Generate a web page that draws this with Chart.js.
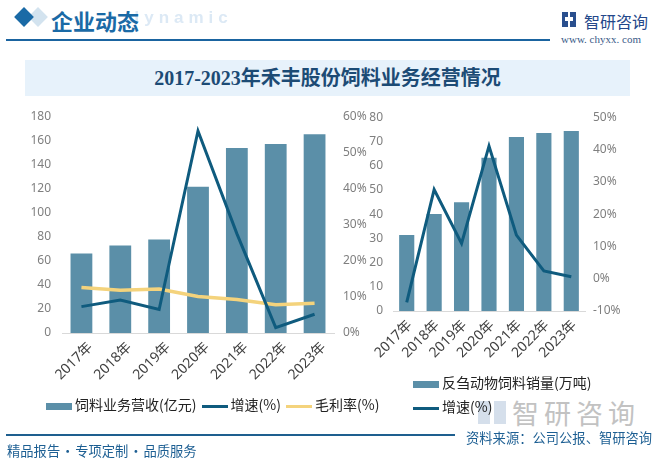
<!DOCTYPE html>
<html>
<head>
<meta charset="utf-8">
<script src="https://cdn.jsdelivr.net/npm/chart.js@4.4.0/dist/chart.umd.min.js"></script>
<style>
  body { margin: 0; background: #fff; font-family: "Noto Sans CJK SC", sans-serif; }
  #page { position: relative; width: 662px; height: 463px; overflow: hidden; background: #fff; }
  .abs { position: absolute; white-space: nowrap; }
  .dia { position: absolute; width: 14px; height: 14px; transform: rotate(45deg); }
  .sw { display: inline-block; vertical-align: middle; margin-right: 3px; }
  .leg { font-size: 14px; color: #222; }
  .dot { display: inline-block; width: 15px; text-align: center; }
</style>
</head>
<body>
<div id="page">
  <!-- header -->
  <div class="abs" style="left:-15px;top:8px;font:bold 17px Arial, sans-serif;letter-spacing:5px;color:#dce9f5;-webkit-mask-image:linear-gradient(to right, transparent 0, transparent 124px, #000 127px);mask-image:linear-gradient(to right, transparent 0, transparent 124px, #000 127px);">Enterprise dynamic</div>
  <div class="dia" style="left:31px;top:10px;background:#d3e3ef;"></div>
  <div class="dia" style="left:17px;top:10px;background:#1a6aa6;"></div>
  <div class="abs" style="left:51px;top:4px;font:bold 22px 'Noto Sans CJK SC';color:#1a6aa6;">企业动态</div>
  <div class="abs" style="left:6px;top:39px;width:544px;height:2px;background:#1a64a0;"></div>
  <div class="abs" style="left:562px;top:12px;width:14px;height:15px;">
    <div class="abs" style="left:0;top:0;width:6px;height:15px;background:#2a4f8e;"></div>
    <div class="abs" style="left:8px;top:0;width:6px;height:15px;background:#2a4f8e;"></div>
    <div class="abs" style="left:3px;top:5px;width:8px;height:4px;background:#fff;"></div>
  </div>
  <div class="abs" style="left:584px;top:9px;font:16px 'Noto Sans CJK SC';color:#24488a;">智研咨询</div>
  <div class="abs" style="left:561px;top:33px;font:11px 'Liberation Serif', serif;color:#3a5a88;">www. chyxx. com</div>

  <!-- title -->
  <div class="abs" style="left:25px;top:60px;width:605px;height:36px;background:#e7f2fb;"></div>
  <div class="abs" style="left:25px;top:62px;width:605px;text-align:center;font:bold 20px 'Liberation Serif','Noto Sans CJK SC',serif;color:#1c4b75;">2017-2023年禾丰股份饲料业务经营情况</div>

  <!-- faint logo watermark -->
  <div class="abs" style="left:478px;top:401px;width:28px;height:23px;opacity:0.35;">
    <div class="abs" style="left:0;top:0;width:12px;height:23px;background:#8aa6c8;"></div>
    <div class="abs" style="left:16px;top:0;width:12px;height:23px;background:#8aa6c8;"></div>
  </div>
  <div class="abs" style="left:512px;top:393px;font:27px 'Noto Sans CJK SC';color:#c2c2c2;letter-spacing:5px;">智研咨询</div>

  <div class="abs" style="left:20px;top:98px;width:350px;height:307px;"><canvas id="c1" width="350" height="307"></canvas></div>
  <div class="abs" style="left:365px;top:100px;width:265px;height:266px;"><canvas id="c2" width="265" height="266"></canvas></div>

  <!-- legends -->
  <div class="abs leg" style="left:46px;top:394px;">
    <span class="sw" style="width:26px;height:7px;background:#5b8fa8;"></span>饲料业务营收(亿元)
    <span class="sw" style="width:26px;height:3px;background:#0f5b7e;margin-left:2px;"></span>增速(%)
    <span class="sw" style="width:26px;height:3px;background:#f4d37c;margin-left:2px;"></span>毛利率(%)
  </div>
  <div class="abs leg" style="left:413px;top:372px;">
    <span class="sw" style="width:26px;height:7px;background:#5b8fa8;"></span>反刍动物饲料销量(万吨)
  </div>
  <div class="abs leg" style="left:413px;top:396px;">
    <span class="sw" style="width:26px;height:3px;background:#0f5b7e;"></span>增速(%)
  </div>

  <!-- footer -->
  <div class="abs" style="left:6px;top:434px;width:449px;height:2px;background:#1e5f8f;"></div>
  <div class="abs" style="left:466px;top:428px;font:13.3px 'Noto Sans CJK SC';color:#1d5f93;">资料来源：公司公报、智研咨询</div>
  <div class="abs" style="left:7px;top:441px;font:13.3px 'Noto Sans CJK SC';color:#1d5f93;">精品报告<span class="dot">·</span>专项定制<span class="dot">·</span>品质服务</div>
</div>

<script>
const years = ['2017年', '2018年', '2019年', '2020年', '2021年', '2022年', '2023年'];
// left chart
const feedRevenue = [66, 72.7, 77.6, 121.4, 153.6, 156.9, 165];
const revenueGrowth = [7.3, 9.1, 6.5, 55.9, 27.5, 1.5, 5.2];
const grossMargin = [12.6, 11.8, 12.2, 10.1, 9.3, 7.8, 8.2];
// right chart
const ruminantSales = [31.4, 40, 44.9, 63.3, 71.8, 73.5, 74.3];
const salesGrowth = [-7.3, 27.6, 10.9, 41.1, 13.5, 2.4, 0.6];

const barColor = '#5b8fa8';
const lineColor = '#0f5b7e';
const yellow = '#f4d37c';
const tickFont = { family: "'Noto Sans', 'Noto Sans CJK SC'", size: 12 };
const tickColor = '#7f7f7f';

function fixWidth(w) { return function (scale) { scale.width = w; }; }
function fixHeight(h) { return function (scale) { scale.height = h; }; }

function makeChart(id, cfg) {
    const ctx = document.getElementById(id).getContext('2d');
    return new Chart(ctx, {
        type: 'bar',
        data: {
            labels: years,
            datasets: cfg.datasets,
        },
        options: {
            responsive: false,
            animation: false,
            layout: { padding: { top: 0, left: 0, right: 0, bottom: 0 } },
            plugins: { legend: { display: false }, tooltip: { enabled: false } },
            scales: {
                x: {
                    grid: { display: false, drawTicks: false },
                    border: { display: true, color: '#d9d9d9' },
                    ticks: { color: '#404040', font: { family: "'Noto Sans', 'Noto Sans CJK SC'", size: 14 }, minRotation: 45, maxRotation: 45, autoSkip: false, padding: 6, labelOffset: cfg.labelOffset },
                    afterFit: fixHeight(cfg.xHeight),
                },
                y: {
                    position: 'left',
                    min: cfg.yMin, max: cfg.yMax,
                    grid: { display: false, drawTicks: false },
                    border: { display: false },
                    ticks: { stepSize: cfg.yStep, color: tickColor, font: tickFont, padding: cfg.yPad },
                    afterFit: fixWidth(cfg.yWidth),
                },
                y1: {
                    position: 'right',
                    min: cfg.y1Min, max: cfg.y1Max,
                    grid: { display: false, drawTicks: false },
                    border: { display: false },
                    ticks: { stepSize: 10, color: tickColor, font: tickFont, padding: cfg.y1Pad, callback: v => v + '%' },
                    afterFit: fixWidth(cfg.y1Width),
                },
            },
        },
    });
}

makeChart('c1', {
    yMin: 0, yMax: 180, yStep: 20, y1Min: 0, y1Max: 60,
    yWidth: 42, y1Width: 36, xHeight: 72, yPad: 11, y1Pad: 9, labelOffset: 9,
    datasets: [
        { type: 'line', label: '增速(%)', data: revenueGrowth, yAxisID: 'y1', borderColor: lineColor, borderWidth: 3, pointRadius: 0, order: 1 },
        { type: 'line', label: '毛利率(%)', data: grossMargin, yAxisID: 'y1', borderColor: yellow, borderWidth: 3.5, pointRadius: 0, order: 2 },
        { type: 'bar', label: '饲料业务营收(亿元)', data: feedRevenue, yAxisID: 'y', backgroundColor: barColor, barPercentage: 0.85, categoryPercentage: 0.66, order: 3 },
    ],
});

makeChart('c2', {
    yMin: 0, yMax: 80, yStep: 10, y1Min: -10, y1Max: 50,
    yWidth: 28, y1Width: 45, xHeight: 55, yPad: 10, y1Pad: 8, labelOffset: 3,
    datasets: [
        { type: 'line', label: '增速(%)', data: salesGrowth, yAxisID: 'y1', borderColor: lineColor, borderWidth: 3, pointRadius: 0, order: 1 },
        { type: 'bar', label: '反刍动物饲料销量(万吨)', data: ruminantSales, yAxisID: 'y', backgroundColor: barColor, barPercentage: 0.85, categoryPercentage: 0.65, order: 2 },
    ],
});
</script>
</body>
</html>
